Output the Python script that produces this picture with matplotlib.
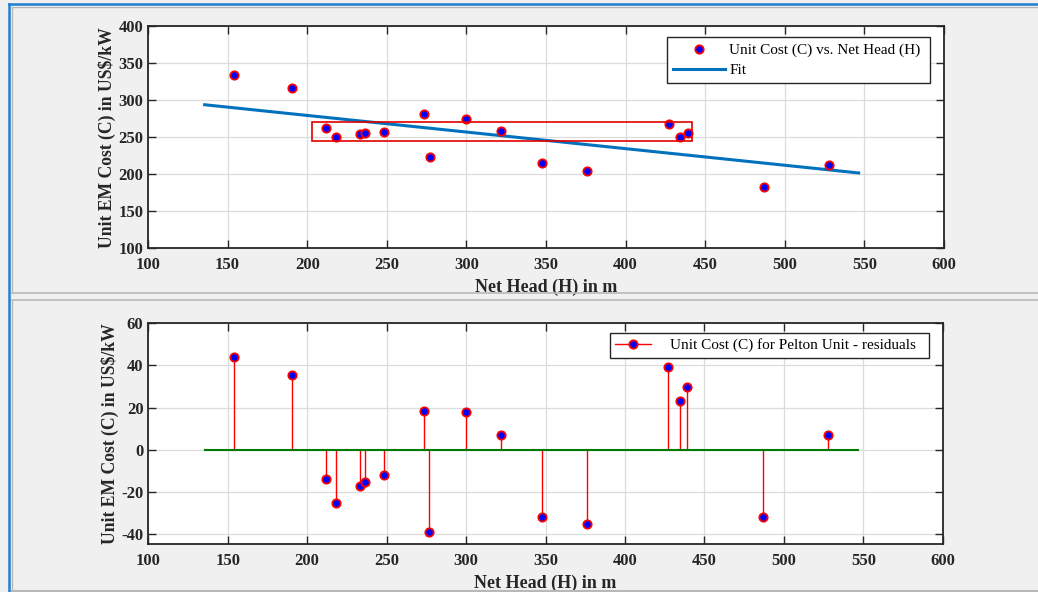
import matplotlib
matplotlib.use("Agg")
import matplotlib.pyplot as plt
from matplotlib.lines import Line2D
from matplotlib.patches import Rectangle

# Data
net_head = [154.0, 190.2, 211.8, 217.9, 233.0, 236.4, 248.2, 273.4, 276.9,
            299.9, 321.7, 347.5, 376.0, 427.3, 434.4, 439.2, 486.7, 527.8]
unit_cost = [333.8, 317.0, 263.0, 250.4, 255.0, 256.0, 256.8, 281.0, 223.0,
             274.7, 259.0, 214.9, 205.0, 267.6, 250.4, 255.4, 182.8, 213.0]
residuals = [44.1, 35.4, -13.7, -25.3, -17.0, -15.4, -11.8, 18.4, -39.1,
             17.9, 6.9, -31.6, -35.0, 39.3, 23.2, 29.6, -31.8, 7.1]
fit_x = [135.6, 546.4]
fit_y = [294.0, 201.8]
zero_x = [135.6, 546.4]
zero_y = [0.0, 0.0]
box_x = [203.0, 442.0]
box_y = [244.6, 271.1]

xticks = [100, 150, 200, 250, 300, 350, 400, 450, 500, 550, 600]
top_yticks = [100, 150, 200, 250, 300, 350, 400]
bot_yticks = [-40, -20, 0, 20, 40, 60]

plt.rcParams['font.family'] = ['Liberation Serif', 'DejaVu Serif']

W, H = 1038, 592
fig = plt.figure(figsize=(W / 100, H / 100), dpi=100)
fig.patch.set_facecolor('#f0f0f0')


def fline(x0, y0, x1, y1, color, lw):
    fig.add_artist(Line2D([x0 / W, x1 / W], [1 - y0 / H, 1 - y1 / H],
                          color=color, lw=lw, transform=fig.transFigure))


fline(9, 4.3, W, 4.3, '#1f7fd0', 1.8)
fline(9, 4.3, 9, H, '#1f7fd0', 1.8)
fline(12, 6.5, W, 6.5, '#b8b8b8', 1.0)
fline(12, 6.5, 12, 293, '#b8b8b8', 1.0)
fline(12, 293.3, W, 293.3, '#b8b8b8', 1.2)
fline(12, 299.5, W, 299.5, '#b8b8b8', 1.2)
fline(12, 299.5, 12, H, '#b8b8b8', 1.0)
fline(12, 590.7, W, 590.7, '#b8b8b8', 1.5)

spine_col = '#262626'
tick_font = dict(fontsize=12, fontweight='bold', color='#262626')
MS = 6


def style_axes(ax, yticks, ylim):
    ax.set_xlim(100, 600)
    ax.set_ylim(*ylim)
    ax.set_xticks(xticks)
    ax.set_yticks(yticks)
    ax.set_xticklabels([str(t) for t in xticks], **tick_font)
    ax.set_yticklabels([str(t) for t in yticks], **tick_font)
    ax.tick_params(direction='in', length=6, width=1.0, color=spine_col,
                   top=True, right=True)
    ax.tick_params(axis='x', pad=6.5)
    ax.tick_params(axis='y', pad=3.5)
    ax.grid(True, color='#dcdcdc', lw=0.9)
    ax.set_axisbelow(True)
    for s in ax.spines.values():
        s.set_color(spine_col)
        s.set_linewidth(1.3)
    ax.set_xlabel('Net Head (H) in m', fontsize=13, fontweight='bold',
                  color='#262626', labelpad=3.5)
    ax.set_ylabel('Unit EM Cost (C) in US\\$/kW', fontsize=12.7,
                  fontweight='bold', color='#262626', labelpad=1.5)


# Top axes
ax1 = fig.add_axes([148 / W, 1 - 248.3 / H, 796 / W, 222 / H])
style_axes(ax1, top_yticks, (100, 400))
fit_line, = ax1.plot(fit_x, fit_y, color='#0072BD', lw=2.2, zorder=3)
pts, = ax1.plot(net_head, unit_cost, 'o', ms=MS, mfc='#0000ff',
                mec='#ff0000', mew=1.3, zorder=4)
ax1.add_patch(Rectangle((box_x[0], box_y[0]), box_x[1] - box_x[0],
                        box_y[1] - box_y[0], fill=False, ec='#e00000',
                        lw=1.2, zorder=5))
leg1 = ax1.legend([pts, fit_line],
                  ['Unit Cost (C) vs. Net Head (H) ', 'Fit'],
                  loc='upper right', bbox_to_anchor=(0.983, 0.951),
                  fontsize=11, frameon=True, fancybox=False,
                  edgecolor='#262626', framealpha=1, handlelength=3.4,
                  borderpad=0.4, labelspacing=0.4, handletextpad=0.3,
                  borderaxespad=0)
leg1.get_frame().set_linewidth(1.0)

# Bottom axes
ax2 = fig.add_axes([148.3 / W, 1 - 544.3 / H, 794.4 / W, 221.3 / H])
style_axes(ax2, bot_yticks, (-44.7, 60))
ax2.plot(zero_x, zero_y, color='#007a00', lw=1.5, zorder=3)
ml, sl, bl = ax2.stem(net_head, residuals, linefmt='-', markerfmt='o',
                      basefmt=' ')
plt.setp(sl, color='#ff0000', lw=1.0)
plt.setp(ml, ms=MS, mfc='#0000ff', mec='#ff0000', mew=1.3, zorder=4)
stem_handle = Line2D([0, 1], [0, 0], color='#ff0000', lw=1.0, marker='o',
                     ms=MS, mfc='#0000ff', mec='#ff0000', mew=1.3,
                     markevery=[1])
leg2 = ax2.legend([stem_handle],
                  ['Unit Cost (C) for Pelton Unit - residuals  '],
                  loc='upper right', bbox_to_anchor=(0.9825, 0.955),
                  fontsize=11, frameon=True, fancybox=False,
                  edgecolor='#262626', framealpha=1, handlelength=2.35,
                  borderpad=0.35, handletextpad=1.24, borderaxespad=0)
leg2.get_frame().set_linewidth(1.0)

fig.savefig('out.png', dpi=100, facecolor=fig.get_facecolor())
